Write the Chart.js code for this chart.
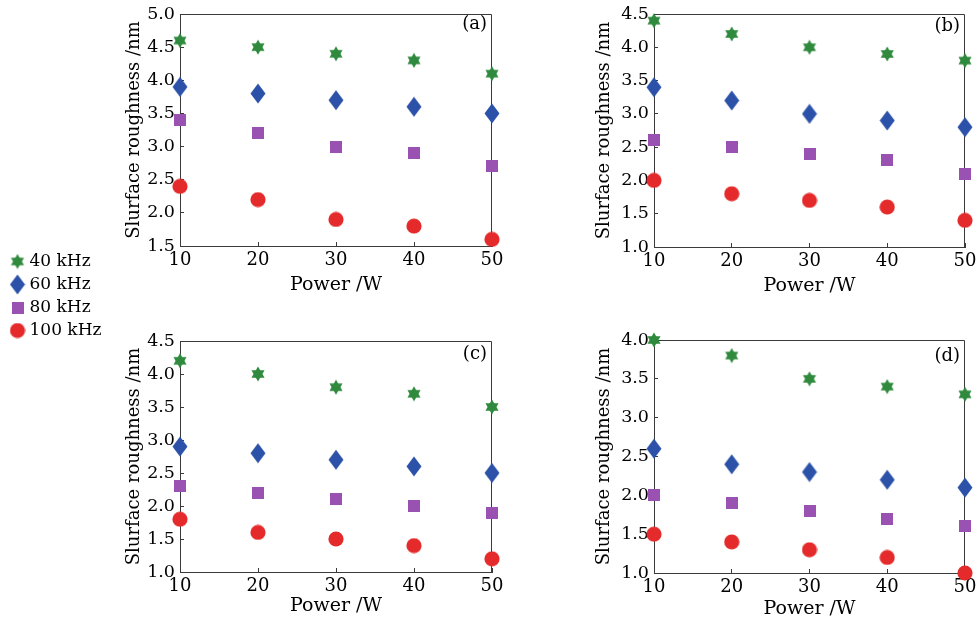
<!DOCTYPE html>
<html><head><meta charset="utf-8">
<script src="https://cdn.jsdelivr.net/npm/chart.js@4/dist/chart.umd.min.js"></script>
<style>
html,body{margin:0;padding:0;background:#fff;width:978px;height:626px;overflow:hidden;position:relative;}
canvas{position:absolute;}
</style></head><body>
<canvas id="legend" width="200" height="110" style="left:8px;top:247px"></canvas>
<canvas id="pa" width="400" height="300" style="left:120px;top:0px"></canvas>
<canvas id="pb" width="388" height="300" style="left:590px;top:0px"></canvas>
<canvas id="pc" width="400" height="306" style="left:120px;top:320px"></canvas>
<canvas id="pd" width="388" height="306" style="left:590px;top:320px"></canvas>
<script>
// ---- data ----
const powers = [10, 20, 30, 40, 50];
const seriesLabels = ['40 kHz', '60 kHz', '80 kHz', '100 kHz'];
const xTicks = [10, 20, 30, 40, 50];

const a40 = [4.6, 4.5, 4.4, 4.3, 4.1];
const a60 = [3.9, 3.8, 3.7, 3.6, 3.5];
const a80 = [3.4, 3.2, 3.0, 2.9, 2.7];
const a100 = [2.4, 2.2, 1.9, 1.8, 1.6];
const yTicksA = [1.5, 2.0, 2.5, 3.0, 3.5, 4.0, 4.5, 5.0];

const b40 = [4.4, 4.2, 4.0, 3.9, 3.8];
const b60 = [3.4, 3.2, 3.0, 2.9, 2.8];
const b80 = [2.6, 2.5, 2.4, 2.3, 2.1];
const b100 = [2.0, 1.8, 1.7, 1.6, 1.4];
const yTicksB = [1.0, 1.5, 2.0, 2.5, 3.0, 3.5, 4.0, 4.5];

const c40 = [4.2, 4.0, 3.8, 3.7, 3.5];
const c60 = [2.9, 2.8, 2.7, 2.6, 2.5];
const c80 = [2.3, 2.2, 2.1, 2.0, 1.9];
const c100 = [1.8, 1.6, 1.5, 1.4, 1.2];
const yTicksC = [1.0, 1.5, 2.0, 2.5, 3.0, 3.5, 4.0, 4.5];

const d40 = [4.0, 3.8, 3.5, 3.4, 3.3];
const d60 = [2.6, 2.4, 2.3, 2.2, 2.1];
const d80 = [2.0, 1.9, 1.8, 1.7, 1.6];
const d100 = [1.5, 1.4, 1.3, 1.2, 1.0];
const yTicksD = [1.0, 1.5, 2.0, 2.5, 3.0, 3.5, 4.0];

// ---- styles ----
const colors = ['#2f8a3e', '#2b52a8', '#9a52b2', '#e42a2a'];
const FONT = "'DejaVu Serif', serif";
const AXIS = '#3a3a3a';
const TEXT = '#000';

function makeImg(w, h, draw) {
  const c = document.createElement('canvas'); c.width = w; c.height = h;
  draw(c.getContext('2d')); return c;
}
const starImg = makeImg(16, 16, g => {
  g.fillStyle = colors[0];
  const cx = 8, cy = 8, R = 7.6;
  for (const off of [-90, 90]) {
    g.beginPath();
    for (let k = 0; k < 3; k++) {
      const a = (off + k * 120) * Math.PI / 180;
      const x = cx + R * Math.cos(a), y = cy + R * Math.sin(a);
      k ? g.lineTo(x, y) : g.moveTo(x, y);
    }
    g.closePath(); g.fill();
  }
});
const diamondImg = makeImg(16, 21, g => {
  g.fillStyle = colors[1];
  g.beginPath(); g.moveTo(8, 0.5); g.lineTo(15.5, 10.5); g.lineTo(8, 20.5); g.lineTo(0.5, 10.5); g.closePath(); g.fill();
});
const squareImg = makeImg(12, 12, g => { g.fillStyle = colors[2]; g.fillRect(0, 0, 12, 12); });
const circleImg = makeImg(16, 16, g => {
  g.fillStyle = colors[3]; g.beginPath(); g.arc(8, 8, 7.6, 0, Math.PI * 2); g.fill();
});
const markers = [starImg, diamondImg, squareImg, circleImg];

function datasets(series) {
  return series.map((vals, i) => ({
    label: seriesLabels[i],
    data: vals.map((v, k) => ({ x: powers[k], y: v })),
    pointStyle: markers[i],
    backgroundColor: colors[i],
    borderColor: colors[i],
    showLine: false,
    clip: false
  }));
}

const framePlugin = {
  id: 'frame',
  beforeDatasetsDraw(chart) {
    const { ctx, chartArea: a } = chart;
    const t = Math.round(a.top) + 0.5, r = Math.round(a.right) - 0.5;
    ctx.save(); ctx.strokeStyle = AXIS; ctx.lineWidth = 1;
    ctx.beginPath(); ctx.moveTo(a.left, t); ctx.lineTo(r, t); ctx.lineTo(r, a.bottom); ctx.stroke();
    const tag = chart.options.plugins.frame;
    ctx.fillStyle = TEXT; ctx.font = '18px ' + FONT; ctx.textAlign = 'right'; ctx.textBaseline = 'top';
    ctx.fillText(tag.text, a.right - 5, a.top + tag.dy);
    ctx.restore();
  }
};

function makePanel(id, series, yTicks, tag, g) {
  new Chart(document.getElementById(id), {
    type: 'scatter',
    data: { datasets: datasets(series) },
    plugins: [framePlugin],
    options: {
      responsive: false, animation: false, devicePixelRatio: 1,
      layout: { padding: { top: g.top, right: g.right, left: 0, bottom: 0 } },
      plugins: { legend: { display: false }, tooltip: { enabled: false }, frame: { text: tag, dy: g.tagDy } },
      scales: {
        x: {
          type: 'linear', min: xTicks[0], max: xTicks[xTicks.length - 1],
          afterBuildTicks: s => { s.ticks = xTicks.map(v => ({ value: v })); },
          afterFit: s => { s.height = g.h; s.paddingLeft = 0; s.paddingRight = 0; },
          grid: { drawOnChartArea: false, drawTicks: true, tickLength: -4, color: AXIS },
          border: { color: AXIS, width: 1 },
          ticks: { color: TEXT, font: { family: FONT, size: 18 }, padding: 8, maxRotation: 0 },
          title: { display: true, text: 'Power /W', color: TEXT, font: { family: FONT, size: 19 }, padding: { top: 0, bottom: g.xtp } }
        },
        y: {
          type: 'linear', min: yTicks[0], max: yTicks[yTicks.length - 1],
          afterBuildTicks: s => { s.ticks = yTicks.map(v => ({ value: v })); },
          afterFit: s => { s.width = g.w; s.paddingTop = 0; s.paddingBottom = 0; },
          grid: { drawOnChartArea: false, drawTicks: true, tickLength: -4, color: AXIS },
          border: { color: AXIS, width: 1 },
          ticks: { color: TEXT, font: { family: FONT, size: 17.5 }, padding: 9, callback: v => Number(v).toFixed(1) },
          title: { display: true, text: 'Slurface roughness /nm', color: TEXT, font: { family: FONT, size: 18 }, padding: { top: 4, bottom: 0 } }
        }
      }
    }
  });
}

Chart.defaults.font.family = FONT;

makePanel('pa', [a40, a60, a80, a100], yTicksA, '(a)', { top: 14, right: 28, w: 60, h: 54, xtp: 3.6, tagDy: 1 });
makePanel('pb', [b40, b60, b80, b100], yTicksB, '(b)', { top: 14, right: 13, w: 64, h: 53, xtp: 2.6, tagDy: 3 });
makePanel('pc', [c40, c60, c80, c100], yTicksC, '(c)', { top: 21, right: 28, w: 60, h: 54, xtp: 8.6, tagDy: 4 });
makePanel('pd', [d40, d60, d80, d100], yTicksD, '(d)', { top: 20, right: 13, w: 64, h: 53, xtp: 5.8, tagDy: 7 });

// legend-only chart
new Chart(document.getElementById('legend'), {
  type: 'scatter',
  data: { datasets: seriesLabels.map((l, i) => ({ label: l, data: [], pointStyle: markers[i], backgroundColor: colors[i], borderColor: colors[i] })) },
  options: {
    responsive: false, animation: false, devicePixelRatio: 1,
    layout: { padding: 0 },
    scales: { x: { display: false }, y: { display: false } },
    plugins: {
      tooltip: { enabled: false },
      legend: {
        position: 'left', align: 'start',
        labels: { usePointStyle: true, boxWidth: 7, padding: 6, color: TEXT, font: { family: FONT, size: 17 } }
      }
    }
  }
});
</script>
</body></html>
